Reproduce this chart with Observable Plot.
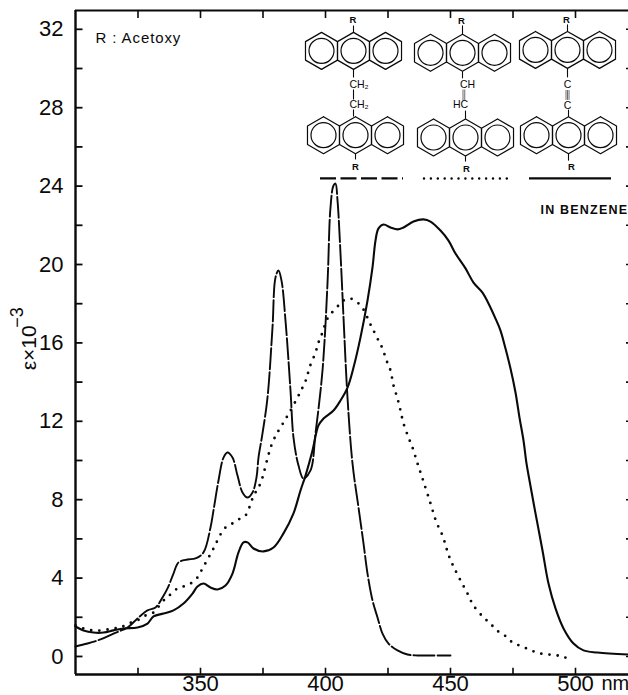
<!DOCTYPE html>
<html>
<head>
<meta charset="utf-8">
<style>html,body{margin:0;padding:0;background:#fff;overflow:hidden}svg{display:block}</style>
<script src="https://cdn.jsdelivr.net/npm/d3@7"></script>
<script src="https://cdn.jsdelivr.net/npm/@observablehq/plot@0.6"></script>
</head>
<body>
<div id="chart"></div>
<script>
const solidNm = [300,303.2,307.2,311.2,315.2,319.2,324.8,328.8,331.2,335.2,339.2,343.2,346.8,348.8,351.2,354,356.8,360,362.8,365.2,367.2,368.8,371.2,375.2,379.2,383.2,387.2,390,392,394.8,397.2,399.2,403.2,406,408.8,411.2,414,416.8,418.8,420,421.2,423.2,426,428.8,431.2,435.2,439.2,442,446,449.2,452,456,459.2,462.8,465.2,468,470,472,474,476,477.6,479.2,480.4,481.6,484,486.8,489.2,492,495.2,499.2,503.2,508.8,521.2];
const solidEps = [1.53,1.33,1.22,1.22,1.33,1.43,1.48,1.68,2.04,2.19,2.35,2.70,3.21,3.57,3.72,3.52,3.42,3.62,4.23,5.31,5.82,5.82,5.51,5.36,5.56,6.28,7.30,8.47,9.23,10.51,11.79,12.14,12.55,13.06,13.72,14.74,16.28,18.16,19.85,21.22,21.84,22.04,21.89,21.79,21.89,22.19,22.30,22.19,21.73,21.22,20.56,19.80,19.08,18.57,18.01,17.24,16.63,15.71,14.69,13.47,12.19,11.02,9.85,8.98,7.30,5.41,3.72,2.45,1.43,0.66,0.31,0.20,0.10];

const dashedNm = [300,304.8,310,315.2,320.8,324.8,328.8,332,334.8,336.8,339.2,341.2,344.8,348,351.2,354,355.2,357.2,359.2,360.8,362.8,364.8,366.8,368.8,370.8,372.4,373.2,374.8,376.8,378.8,380,381.2,382.4,384,386,387.2,389.2,391.2,394,396,398.8,400.8,402,403.2,404,404.8,406,407.2,408.8,410.8,413.2,415.2,416.8,418.8,420.8,422.8,425.2,428.8,432.8,436.8,442,450];
const dashedEps = [0.51,0.66,0.87,1.17,1.48,1.94,2.35,2.50,3.01,3.47,4.23,4.80,4.95,5.00,5.31,6.58,7.45,8.98,10.15,10.41,10.15,9.23,8.37,8.11,8.37,9.13,10.15,11.38,13.21,16.79,19.34,19.69,19.18,17.14,13.57,11.17,9.74,9.08,9.49,11.38,14.59,19.03,22.91,24.03,24.13,23.27,20.56,17.30,13.21,9.85,7.60,5.77,4.23,2.86,1.99,1.17,0.66,0.31,0.10,0.05,0.05,0.05];

const dottedNm = [300,303.2,306.8,310.8,314.8,318,321.2,324.8,328,331.2,333.6,336,338,340.8,343.2,346,348.8,350.8,352.8,354.8,356.4,359.6,362.8,365.2,368,370.8,372.4,374,378.8,383.2,385.6,388.8,390.8,392.4,393.6,396,397.2,398.8,400.8,405.2,407.2,410,412.8,415.2,417.6,419.2,421.2,422.8,424.4,426,427.2,428.8,430,431.2,433.2,434.8,436.8,438.8,442,444.4,446.8,448.4,449.6,451.2,453.6,456.8,459.2,463.6,466,468,470.4,472.8,474.8,477.6,480.4,483.2,486,489.2,492.8,495.6,499.2];
const dottedEps = [1.58,1.43,1.33,1.33,1.43,1.48,1.68,1.84,2.09,2.24,2.60,2.96,3.16,3.47,3.57,3.72,4.03,4.49,4.95,5.41,5.82,6.53,6.79,6.99,7.19,8.06,8.47,8.83,10.92,11.94,12.45,13.21,13.72,14.18,14.74,15.51,16.02,16.53,17.24,17.91,18.16,18.26,18.06,17.70,17.04,16.63,16.12,15.71,15.10,14.59,13.83,13.16,12.55,11.89,11.17,10.66,9.85,9.08,7.81,6.84,6.17,5.51,5.05,4.59,3.98,3.21,2.60,1.94,1.68,1.38,1.17,0.97,0.71,0.56,0.41,0.26,0.15,0.10,0.05,-0.05,-0.05];

const xMin = 300, xMax = 521.2, yMin = -0.92, yMax = 32.96;
const xTicks = [325,350,375,400,425,450,475,500];
const xLabels = [350,400,450,500];
const yLabels = [0,4,8,12,16,20,24,28,32];
const yTicks = [0,2,4,6,8,10,12,14,16,18,20,22,24,26,28,30,32];

const legendY = 24.39;
const legendSpans = [
  {x1:398,   x2:431.2, kind:"dash"},
  {x1:439.6, x2:473.2, kind:"dot"},
  {x1:481.6, x2:514.4, kind:"solid"}
];

// anthracene units of the three structures, in chart units
const ringCentres = [
  {nm:411.2, e:30.9}, {nm:412,   e:26.6},
  {nm:454.8, e:30.8}, {nm:456,   e:26.48},
  {nm:496.8, e:30.95},{nm:497.2, e:26.6}
];
const nmPerPx = 0.4, epsPerPx = 0.05102;
const HEX_R = 18.5, RING_STEP = 32;

const hexPts = [], ringPts = [];
ringCentres.forEach((c, m) => {
  [-1,0,1].forEach(k => {
    const cx = c.nm + k*RING_STEP*nmPerPx;
    ringPts.push({nm:cx, e:c.e});
    for (let i=0;i<=6;i++){
      const a = Math.PI/3*i;
      hexPts.push({id:m+"-"+k, nm:cx+HEX_R*Math.sin(a)*nmPerPx, e:c.e+HEX_R*Math.cos(a)*epsPerPx});
    }
  });
});

const bondNm = [411.2,411.2,411.2,411.2,412,  454.8,454.8,456,456,  496.8,496.8,497.2,497.2];
const bondE1 = [31.84,29.97,28.93,27.91,25.66, 31.75,29.85,27.43,25.53, 31.9,30.0,27.55,25.65];
const bondE2 = [32.19,29.54,28.42,27.55,25.36, 32.2,29.5,27.85,25.25, 32.25,29.55,27.9,25.3];
const multiNm = [455,455.7, 496.2,496.8,497.4];
const multiE1 = [28.93,28.93, 28.9,28.9,28.9];
const multiE2 = [28.35,28.35, 28.4,28.4,28.4];

const structLabels = [
  {t:"R",nm:411,e:32.5,s:9.5,w:"bold"},{t:"CH₂",nm:413.4,e:29.18,s:10.5,w:"normal"},{t:"CH₂",nm:413.4,e:28.16,s:10.5,w:"normal"},{t:"R",nm:412,e:25.0,s:9.5,w:"bold"},
  {t:"R",nm:454.4,e:32.45,s:9.5,w:"bold"},{t:"CH",nm:456.8,e:29.18,s:10.5,w:"normal"},{t:"HC",nm:454,e:28.16,s:10.5,w:"normal"},{t:"R",nm:456.4,e:24.9,s:9.5,w:"bold"},
  {t:"R",nm:496.4,e:32.5,s:9.5,w:"bold"},{t:"C",nm:496.8,e:29.2,s:10.5,w:"normal"},{t:"C",nm:496.8,e:28.1,s:10.5,w:"normal"},{t:"R",nm:498.4,e:25.0,s:9.5,w:"bold"}
];

const notes = [
  {t:"R : Acetoxy", nm:308, e:31.55, size:15, weight:"normal", track:0.9},
  {t:"IN BENZENE", nm:486, e:22.8, size:12.5, weight:"bold", track:1.2},
  {t:"nm", nm:510.4, e:-1.38, size:20, weight:"normal", track:0}
];

const font = "'Liberation Sans', Arial, Helvetica, sans-serif";
const ink = "#0a0a0a";

const series = (nm, eps) => nm.map((v,i)=>({nm:v, e:eps[i]}));

const chart = Plot.plot({
  width: 628, height: 695,
  marginLeft: 75, marginRight: 0, marginTop: 10, marginBottom: 21,
  style: {fontFamily: font, color: ink, background: "#fff", overflow: "visible"},
  x: {domain:[xMin,xMax], range:[75,628]},
  y: {domain:[yMin,yMax], range:[674,10]},
  marks: [
    // frame
    Plot.ruleX([xMin],{stroke:ink,strokeWidth:2.4}),
    Plot.ruleY([yMin],{stroke:ink,strokeWidth:2.4}),
    Plot.ruleY([yMax],{stroke:ink,strokeWidth:2.2}),
    // ticks
    Plot.ruleY(yTicks,{x1:xMin,x2:303,stroke:ink,strokeWidth:1.8}),
    Plot.ruleY(yTicks,{x1:520.4,x2:xMax,stroke:ink,strokeWidth:1.6}),
    Plot.ruleX(xTicks,{y1:yMin,y2:-0.6,stroke:ink,strokeWidth:1.6}),
    Plot.ruleX(xTicks,{y1:yMax,y2:32.55,stroke:ink,strokeWidth:1.6}),
    // axes
    Plot.axisX({ticks:xLabels,tickSize:0,tickPadding:1,fontSize:22,label:null,tickFormat:d=>String(d)}),
    Plot.axisY({ticks:yLabels,tickSize:0,tickPadding:12,fontSize:22,label:null,tickFormat:d=>String(d)}),
    Plot.text(["ε×10"],{x:[281.4],y:[15.75],rotate:-90,fontSize:21,fill:ink}),
    Plot.text(["−3"],{x:[276.6],y:[17.3],rotate:-90,fontSize:18,fill:ink}),
    // spectra
    Plot.line(series(dashedNm,dashedEps),{x:"nm",y:"e",stroke:ink,strokeWidth:1.9,strokeDasharray:"21,3",curve:"catmull-rom"}),
    Plot.line(series(dottedNm,dottedEps),{x:"nm",y:"e",stroke:ink,strokeWidth:2.8,strokeLinecap:"round",strokeDasharray:"0,8.2",curve:"catmull-rom"}),
    Plot.line(series(solidNm,solidEps),{x:"nm",y:"e",stroke:ink,strokeWidth:2.1,curve:"catmull-rom"}),
    // legend keys
    Plot.ruleY(legendSpans.filter(d=>d.kind==="dash"),{y:legendY,x1:"x1",x2:"x2",stroke:ink,strokeWidth:2.2,strokeDasharray:"16,4.5"}),
    Plot.ruleY(legendSpans.filter(d=>d.kind==="dot"),{y:legendY,x1:"x1",x2:"x2",stroke:ink,strokeWidth:2.5,strokeLinecap:"round",strokeDasharray:"0,6.9"}),
    Plot.ruleY(legendSpans.filter(d=>d.kind==="solid"),{y:legendY,x1:"x1",x2:"x2",stroke:ink,strokeWidth:2.2}),
    // structures
    Plot.line(hexPts,{x:"nm",y:"e",z:"id",stroke:ink,strokeWidth:1.2}),
    Plot.dot(ringPts,{x:"nm",y:"e",r:12.5,fill:"none",stroke:ink,strokeWidth:1.2}),
    Plot.link(bondNm.map((v,i)=>({nm:v,a:bondE1[i],b:bondE2[i]})),{x1:"nm",x2:"nm",y1:"a",y2:"b",stroke:ink,strokeWidth:1.1}),
    Plot.link(multiNm.map((v,i)=>({nm:v,a:multiE1[i],b:multiE2[i]})),{x1:"nm",x2:"nm",y1:"a",y2:"b",stroke:ink,strokeWidth:0.6}),
    Plot.text(structLabels.filter(d=>d.w==="bold"),{x:"nm",y:"e",text:"t",fontSize:"s",fill:ink,fontWeight:"bold"}),
    Plot.text(structLabels.filter(d=>d.w==="normal"),{x:"nm",y:"e",text:"t",fontSize:"s",fill:ink}),
    Plot.text(notes.filter(d=>d.weight==="normal"),{x:"nm",y:"e",text:"t",fontSize:d=>d.size,textAnchor:"start",fill:ink}),
    Plot.text(notes.filter(d=>d.weight==="bold"),{x:"nm",y:"e",text:"t",fontSize:d=>d.size,textAnchor:"start",fontWeight:"bold",fill:ink})
  ]
});
// tracking of the two hand-lettered notes
d3.select(chart).selectAll("text").each(function(){
  const n = notes.find(d => d.t === this.textContent);
  if (n && n.track) this.style.letterSpacing = n.track + "px";
});
document.getElementById("chart").appendChild(chart);
</script>
</body>
</html>
